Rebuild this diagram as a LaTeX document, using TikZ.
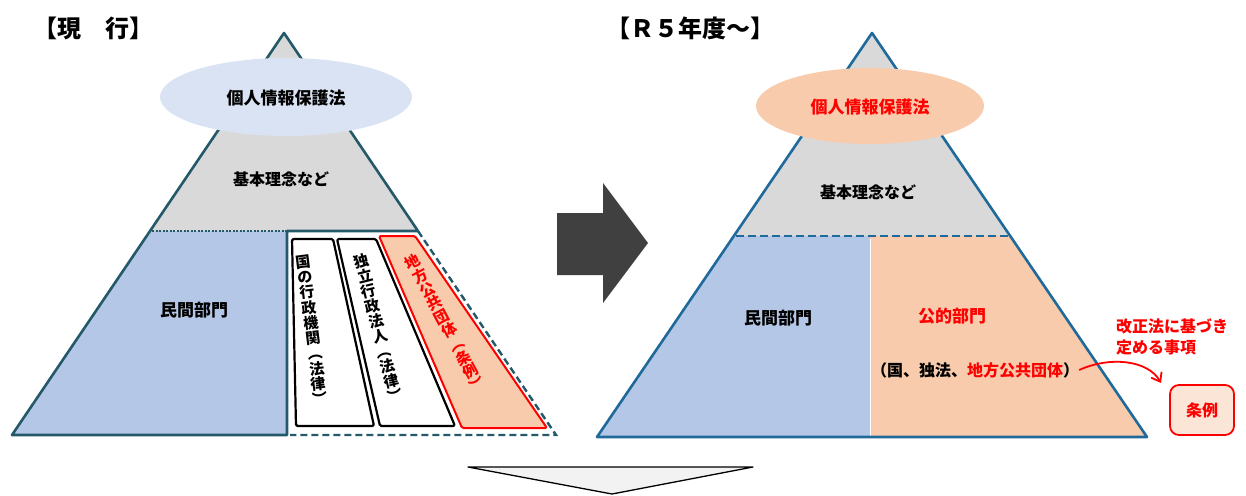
\documentclass[tikz,border=0pt]{standalone}
\usepackage{fontspec}
\setmainfont{Noto Sans CJK JP}
\usetikzlibrary{shapes.geometric,arrows.meta}
\definecolor{lblue}{HTML}{B4C7E7}
\definecolor{lgray}{HTML}{D9D9D9}
\definecolor{salmon}{HTML}{F8CBAD}
\definecolor{ellblue}{HTML}{DAE3F3}
\definecolor{tealL}{HTML}{24596A}
\definecolor{blueR}{HTML}{1F6A9A}
\definecolor{darkarrow}{HTML}{404040}
\definecolor{pinkbox}{HTML}{FBE5D6}
\definecolor{redtxt}{HTML}{FF0000}
\tikzset{
  titletxt/.style={inner sep=0, font=\fontsize{24}{26}\selectfont\bfseries},
  lbl/.style={inner sep=0, font=\fontsize{16}{18}\selectfont\bfseries},
  biglbl/.style={inner sep=0, font=\fontsize{17}{19}\selectfont\bfseries},
  coltext/.style={inner sep=0, align=center, font=\fontsize{15}{15.4}\selectfont\bfseries},
  colbox/.style={draw=black, line width=2.2pt, fill=white, rounded corners=1.5pt, line join=round},
  edgeL/.style={draw=tealL, line width=2.6pt, line join=round},
  edgeR/.style={draw=blueR, line width=2.6pt, line join=round},
}
\begin{document}
\begin{tikzpicture}[x=1pt,y=-1pt]
\useasboundingbox (0,0) rectangle (1246,495);

% titles
\node[titletxt] (t1) at (93,28) {【現　行】};
\node[titletxt] (t2) at (690,28) {【Ｒ５年度～】};

% ---------- left pyramid ----------
\fill[lgray] (284,33) -- (150,231) -- (418,231) -- cycle;
\fill[lblue] (150,231) -- (287,231) -- (287,435) -- (12,435) -- cycle;
\fill[white] (287,231) -- (418,231) -- (556,435) -- (287,435) -- cycle;
\draw[edgeL] (418,231) -- (284,33) -- (12,435) -- (287,435) -- (287,231) -- (418,231);
\draw[tealL, line width=2.4pt, dash pattern=on 7pt off 4pt] (418,231) -- (556,435) -- (290,435);
\draw[tealL, line width=2pt, dash pattern=on 2pt off 1.5pt] (152,231) -- (286,231);

% columns
\draw[colbox] (292,239) -- (333,239) -- (374,426) -- (296,426) -- cycle;
\draw[colbox] (337,239) -- (376,239) -- (455,426) -- (380,426) -- cycle;
\draw[colbox, draw=redtxt, fill=salmon, line width=2pt] (379,236) -- (415,236) -- (547,428) -- (462,428) -- cycle;
\node[coltext, rotate=7] (c1) at (312,330) {国\\の\\行\\政\\機\\関\\︵\\法\\律\\︶};
\node[coltext, rotate=14] (c2) at (378,328) {独\\立\\行\\政\\法\\人\\︵\\法\\律\\︶};
\node[coltext, rotate=28, text=redtxt] (c3) at (445,323) {地\\方\\公\\共\\団\\体\\︵\\条\\例\\︶};

\node[ellipse, fill=ellblue, minimum width=252pt, minimum height=78pt, inner sep=0] (e1) at (286,97) {};
\node[biglbl] (e1t) at (286,98) {個人情報保護法};
\node[lbl] (k1) at (281,179) {基本理念など};
\node[biglbl] (m1) at (194,310) {民間部門};

% ---------- arrows between ----------
\fill[darkarrow] (557,213) -- (603,213) -- (603,183) -- (648,243) -- (603,303) -- (603,275) -- (557,275) -- cycle;
\draw[black, line width=1.3pt, fill=black!5, line join=round] (468,467) -- (753,467) -- (612,494) -- cycle;

% ---------- right pyramid ----------
\fill[lgray] (872,33) -- (734,236) -- (1010,236) -- cycle;
\fill[lblue] (734,236) -- (870,236) -- (870,437) -- (597,437) -- cycle;
\fill[salmon] (870,236) -- (1010,236) -- (1147,437) -- (870,437) -- cycle;
\draw[white, line width=1pt] (870,239) -- (870,436);
\draw[edgeR] (872,33) -- (597,437) -- (1147,437) -- cycle;
\draw[blueR, line width=2.8pt, dash pattern=on 8pt off 4pt] (736,236) -- (1008,236);

\node[ellipse, fill=salmon, minimum width=228pt, minimum height=76pt, inner sep=0] (e2) at (870,106) {};
\node[biglbl, text=redtxt] (e2t) at (870,107) {個人情報保護法};
\node[lbl] (k2) at (868,192) {基本理念など};
\node[biglbl] (m2) at (778,318) {民間部門};
\node[biglbl, text=redtxt] (p2) at (952,316) {公的部門};
\node[lbl] (pub) at (975,370) {（国、独法、\textcolor{redtxt}{地方公共団体}）};
\node[lbl, text=redtxt, align=left, anchor=west, font=\fontsize{16}{21}\selectfont\bfseries] (note) at (1116,337) {改正法に基づき\\定める事項};
\node[draw=redtxt, line width=1.8pt, fill=pinkbox, rounded corners=9pt, minimum width=64pt, minimum height=50pt, inner sep=0, text=redtxt, font=\fontsize{16}{18}\selectfont\bfseries] (jorei) at (1202,410) {条例};
\coordinate (arrEnd) at (1161,383);
\draw[redtxt, line width=1.8pt, -{Straight Barb[length=8pt,width=12pt]}] (pub.east) .. controls (1110,356) and (1148,360) .. (arrEnd);
\end{tikzpicture}
\end{document}
